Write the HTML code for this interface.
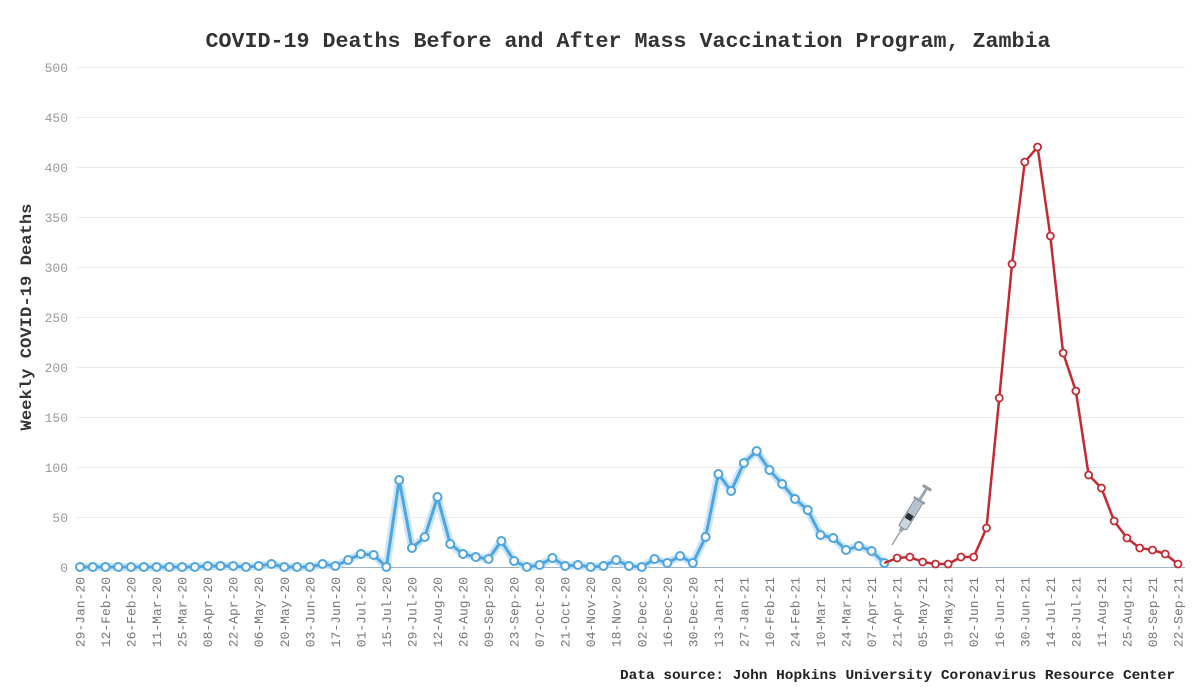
<!DOCTYPE html>
<html>
<head>
<meta charset="utf-8">
<style>
  html, body { margin: 0; padding: 0; background: #ffffff; }
  body { width: 1200px; height: 700px; overflow: hidden; }
  svg { display: block; }
  text { font-family: "Liberation Mono", "DejaVu Sans Mono", monospace; }
</style>
</head>
<body>
<svg width="1200" height="700" viewBox="0 0 1200 700" xmlns="http://www.w3.org/2000/svg">
  <rect width="1200" height="700" fill="#ffffff"/>

  <!-- Title -->
  <text x="628" y="47" text-anchor="middle" font-size="21" font-weight="bold" fill="#333" textLength="845" lengthAdjust="spacingAndGlyphs">COVID-19 Deaths Before and After Mass Vaccination Program, Zambia</text>

  <!-- Gridlines -->
  <g stroke="#ebebeb" stroke-width="1">
    <line x1="77" y1="67.5" x2="1185" y2="67.5"/>
    <line x1="77" y1="117.5" x2="1185" y2="117.5"/>
    <line x1="77" y1="167.5" x2="1185" y2="167.5"/>
    <line x1="77" y1="217.5" x2="1185" y2="217.5"/>
    <line x1="77" y1="267.5" x2="1185" y2="267.5"/>
    <line x1="77" y1="317.5" x2="1185" y2="317.5"/>
    <line x1="77" y1="367.5" x2="1185" y2="367.5"/>
    <line x1="77" y1="417.5" x2="1185" y2="417.5"/>
    <line x1="77" y1="467.5" x2="1185" y2="467.5"/>
    <line x1="77" y1="517.5" x2="1185" y2="517.5"/>
  </g>
  <line x1="77" y1="567.5" x2="1185" y2="567.5" stroke="#9fb0be" stroke-width="1"/>

  <!-- Y labels -->
  <g font-size="13" fill="#999" text-anchor="end">
    <text x="68" y="72">500</text>
    <text x="68" y="122">450</text>
    <text x="68" y="172">400</text>
    <text x="68" y="222">350</text>
    <text x="68" y="272">300</text>
    <text x="68" y="322">250</text>
    <text x="68" y="372">200</text>
    <text x="68" y="422">150</text>
    <text x="68" y="472">100</text>
    <text x="68" y="522">50</text>
    <text x="68" y="572">0</text>
  </g>

  <!-- Y axis title -->
  <text transform="translate(31,317) rotate(-90)" text-anchor="middle" font-size="16" font-weight="bold" fill="#333" textLength="227" lengthAdjust="spacingAndGlyphs">Weekly COVID-19 Deaths</text>

  <!-- X labels -->
  <g font-size="13" fill="#777" text-anchor="end">
    <text transform="translate(84.5,577) rotate(-90)">29-Jan-20</text>
    <text transform="translate(110.0,577) rotate(-90)">12-Feb-20</text>
    <text transform="translate(135.6,577) rotate(-90)">26-Feb-20</text>
    <text transform="translate(161.1,577) rotate(-90)">11-Mar-20</text>
    <text transform="translate(186.6,577) rotate(-90)">25-Mar-20</text>
    <text transform="translate(212.2,577) rotate(-90)">08-Apr-20</text>
    <text transform="translate(237.7,577) rotate(-90)">22-Apr-20</text>
    <text transform="translate(263.2,577) rotate(-90)">06-May-20</text>
    <text transform="translate(288.8,577) rotate(-90)">20-May-20</text>
    <text transform="translate(314.3,577) rotate(-90)">03-Jun-20</text>
    <text transform="translate(339.9,577) rotate(-90)">17-Jun-20</text>
    <text transform="translate(365.4,577) rotate(-90)">01-Jul-20</text>
    <text transform="translate(390.9,577) rotate(-90)">15-Jul-20</text>
    <text transform="translate(416.5,577) rotate(-90)">29-Jul-20</text>
    <text transform="translate(442.0,577) rotate(-90)">12-Aug-20</text>
    <text transform="translate(467.5,577) rotate(-90)">26-Aug-20</text>
    <text transform="translate(493.1,577) rotate(-90)">09-Sep-20</text>
    <text transform="translate(518.6,577) rotate(-90)">23-Sep-20</text>
    <text transform="translate(544.1,577) rotate(-90)">07-Oct-20</text>
    <text transform="translate(569.7,577) rotate(-90)">21-Oct-20</text>
    <text transform="translate(595.2,577) rotate(-90)">04-Nov-20</text>
    <text transform="translate(620.7,577) rotate(-90)">18-Nov-20</text>
    <text transform="translate(646.3,577) rotate(-90)">02-Dec-20</text>
    <text transform="translate(671.8,577) rotate(-90)">16-Dec-20</text>
    <text transform="translate(697.3,577) rotate(-90)">30-Dec-20</text>
    <text transform="translate(722.9,577) rotate(-90)">13-Jan-21</text>
    <text transform="translate(748.4,577) rotate(-90)">27-Jan-21</text>
    <text transform="translate(773.9,577) rotate(-90)">10-Feb-21</text>
    <text transform="translate(799.5,577) rotate(-90)">24-Feb-21</text>
    <text transform="translate(825.0,577) rotate(-90)">10-Mar-21</text>
    <text transform="translate(850.5,577) rotate(-90)">24-Mar-21</text>
    <text transform="translate(876.1,577) rotate(-90)">07-Apr-21</text>
    <text transform="translate(901.6,577) rotate(-90)">21-Apr-21</text>
    <text transform="translate(927.2,577) rotate(-90)">05-May-21</text>
    <text transform="translate(952.7,577) rotate(-90)">19-May-21</text>
    <text transform="translate(978.2,577) rotate(-90)">02-Jun-21</text>
    <text transform="translate(1003.8,577) rotate(-90)">16-Jun-21</text>
    <text transform="translate(1029.3,577) rotate(-90)">30-Jun-21</text>
    <text transform="translate(1054.8,577) rotate(-90)">14-Jul-21</text>
    <text transform="translate(1080.4,577) rotate(-90)">28-Jul-21</text>
    <text transform="translate(1105.9,577) rotate(-90)">11-Aug-21</text>
    <text transform="translate(1131.4,577) rotate(-90)">25-Aug-21</text>
    <text transform="translate(1157.0,577) rotate(-90)">08-Sep-21</text>
    <text transform="translate(1182.5,577) rotate(-90)">22-Sep-21</text>
  </g>

  <!-- Blue series -->
  <g fill="none" stroke-linejoin="round" stroke-linecap="round">
    <polyline stroke="#bfe0f5" stroke-width="8" opacity="0.8" points="80.0,567 92.77,567 105.53,567 118.30,567 131.07,567 143.84,567 156.60,567 169.37,567 182.14,567 194.91,567 207.67,566 220.44,566 233.21,566 245.98,567 258.74,566 271.51,564 284.28,567 297.05,567 309.81,567 322.58,564 335.35,566 348.12,560 360.88,554 373.65,555 386.42,567 399.19,480 411.95,548 424.72,537 437.49,497 450.26,544 463.02,554 475.79,557 488.56,559 501.33,541 514.09,561 526.86,567 539.63,565 552.40,558 565.16,566 577.93,565 590.70,567 603.47,566 616.23,560 629.00,566 641.77,567 654.53,559 667.30,563 680.07,556 692.84,563 705.60,537 718.37,474 731.14,491 743.91,463 756.67,451 769.44,470 782.21,484 794.98,499 807.74,510 820.51,535 833.28,538 846.05,550 858.81,546 871.58,551 884.35,563"/>
    <polyline stroke="#4ea5e0" stroke-width="3" points="80.0,567 92.77,567 105.53,567 118.30,567 131.07,567 143.84,567 156.60,567 169.37,567 182.14,567 194.91,567 207.67,566 220.44,566 233.21,566 245.98,567 258.74,566 271.51,564 284.28,567 297.05,567 309.81,567 322.58,564 335.35,566 348.12,560 360.88,554 373.65,555 386.42,567 399.19,480 411.95,548 424.72,537 437.49,497 450.26,544 463.02,554 475.79,557 488.56,559 501.33,541 514.09,561 526.86,567 539.63,565 552.40,558 565.16,566 577.93,565 590.70,567 603.47,566 616.23,560 629.00,566 641.77,567 654.53,559 667.30,563 680.07,556 692.84,563 705.60,537 718.37,474 731.14,491 743.91,463 756.67,451 769.44,470 782.21,484 794.98,499 807.74,510 820.51,535 833.28,538 846.05,550 858.81,546 871.58,551 884.35,563"/>
  </g>
  <g fill="#ffffff" stroke="#4ea5e0" stroke-width="2">
    <circle cx="80.0" cy="567" r="4"/><circle cx="92.77" cy="567" r="4"/><circle cx="105.53" cy="567" r="4"/><circle cx="118.30" cy="567" r="4"/><circle cx="131.07" cy="567" r="4"/><circle cx="143.84" cy="567" r="4"/><circle cx="156.60" cy="567" r="4"/><circle cx="169.37" cy="567" r="4"/><circle cx="182.14" cy="567" r="4"/><circle cx="194.91" cy="567" r="4"/>
    <circle cx="207.67" cy="566" r="4"/><circle cx="220.44" cy="566" r="4"/><circle cx="233.21" cy="566" r="4"/><circle cx="245.98" cy="567" r="4"/><circle cx="258.74" cy="566" r="4"/><circle cx="271.51" cy="564" r="4"/><circle cx="284.28" cy="567" r="4"/><circle cx="297.05" cy="567" r="4"/><circle cx="309.81" cy="567" r="4"/><circle cx="322.58" cy="564" r="4"/>
    <circle cx="335.35" cy="566" r="4"/><circle cx="348.12" cy="560" r="4"/><circle cx="360.88" cy="554" r="4"/><circle cx="373.65" cy="555" r="4"/><circle cx="386.42" cy="567" r="4"/><circle cx="399.19" cy="480" r="4"/><circle cx="411.95" cy="548" r="4"/><circle cx="424.72" cy="537" r="4"/><circle cx="437.49" cy="497" r="4"/><circle cx="450.26" cy="544" r="4"/>
    <circle cx="463.02" cy="554" r="4"/><circle cx="475.79" cy="557" r="4"/><circle cx="488.56" cy="559" r="4"/><circle cx="501.33" cy="541" r="4"/><circle cx="514.09" cy="561" r="4"/><circle cx="526.86" cy="567" r="4"/><circle cx="539.63" cy="565" r="4"/><circle cx="552.40" cy="558" r="4"/><circle cx="565.16" cy="566" r="4"/><circle cx="577.93" cy="565" r="4"/>
    <circle cx="590.70" cy="567" r="4"/><circle cx="603.47" cy="566" r="4"/><circle cx="616.23" cy="560" r="4"/><circle cx="629.00" cy="566" r="4"/><circle cx="641.77" cy="567" r="4"/><circle cx="654.53" cy="559" r="4"/><circle cx="667.30" cy="563" r="4"/><circle cx="680.07" cy="556" r="4"/><circle cx="692.84" cy="563" r="4"/><circle cx="705.60" cy="537" r="4"/>
    <circle cx="718.37" cy="474" r="4"/><circle cx="731.14" cy="491" r="4"/><circle cx="743.91" cy="463" r="4"/><circle cx="756.67" cy="451" r="4"/><circle cx="769.44" cy="470" r="4"/><circle cx="782.21" cy="484" r="4"/><circle cx="794.98" cy="499" r="4"/><circle cx="807.74" cy="510" r="4"/><circle cx="820.51" cy="535" r="4"/><circle cx="833.28" cy="538" r="4"/>
    <circle cx="846.05" cy="550" r="4"/><circle cx="858.81" cy="546" r="4"/><circle cx="871.58" cy="551" r="4"/><circle cx="884.35" cy="563" r="4"/>
  </g>

  <!-- Red series -->
  <polyline fill="none" stroke="#c42a32" stroke-width="2.5" stroke-linejoin="round" points="884.35,563 897.12,558 909.88,557 922.65,562 935.42,564 948.19,564 960.95,557 973.72,557 986.49,528 999.26,398 1012.02,264 1024.79,162 1037.56,147 1050.33,236 1063.09,353 1075.86,391 1088.63,475 1101.40,488 1114.16,521 1126.93,538 1139.70,548 1152.47,550 1165.23,554 1178.0,564"/>
  <g fill="#ffffff" stroke="#c42a32" stroke-width="1.8">
    <circle cx="897.12" cy="558" r="3.5"/><circle cx="909.88" cy="557" r="3.5"/><circle cx="922.65" cy="562" r="3.5"/><circle cx="935.42" cy="564" r="3.5"/><circle cx="948.19" cy="564" r="3.5"/><circle cx="960.95" cy="557" r="3.5"/><circle cx="973.72" cy="557" r="3.5"/><circle cx="986.49" cy="528" r="3.5"/><circle cx="999.26" cy="398" r="3.5"/><circle cx="1012.02" cy="264" r="3.5"/>
    <circle cx="1024.79" cy="162" r="3.5"/><circle cx="1037.56" cy="147" r="3.5"/><circle cx="1050.33" cy="236" r="3.5"/><circle cx="1063.09" cy="353" r="3.5"/><circle cx="1075.86" cy="391" r="3.5"/><circle cx="1088.63" cy="475" r="3.5"/><circle cx="1101.40" cy="488" r="3.5"/><circle cx="1114.16" cy="521" r="3.5"/><circle cx="1126.93" cy="538" r="3.5"/><circle cx="1139.70" cy="548" r="3.5"/>
    <circle cx="1152.47" cy="550" r="3.5"/><circle cx="1165.23" cy="554" r="3.5"/><circle cx="1178.0" cy="564" r="3.5"/>
  </g>

  <!-- Syringe -->
  <g transform="translate(892,545) rotate(-58.5)">
    <line x1="0" y1="0" x2="16" y2="0" stroke="#8a949c" stroke-width="1.2"/>
    <rect x="16" y="-2" width="4" height="4" fill="#9aa6b0"/>
    <rect x="20" y="-4.5" width="32" height="9" rx="1.5" fill="#c9d6e0" stroke="#7f8c96" stroke-width="1"/>
    <rect x="30" y="-3.5" width="6" height="7" fill="#2a2f33"/>
    <rect x="36" y="-3.5" width="15" height="7" fill="#b4c3ce"/>
    <rect x="51" y="-6.5" width="2.5" height="13" fill="#8e9aa4"/>
    <rect x="53.5" y="-1.5" width="12" height="3" fill="#9aa6b0"/>
    <rect x="65.5" y="-5" width="3" height="10" rx="1" fill="#8e9aa4"/>
  </g>

  <!-- Footer -->
  <text x="620" y="679" font-size="14" font-weight="bold" fill="#222" textLength="555" lengthAdjust="spacingAndGlyphs">Data source: John Hopkins University Coronavirus Resource Center</text>
</svg>
</body>
</html>
